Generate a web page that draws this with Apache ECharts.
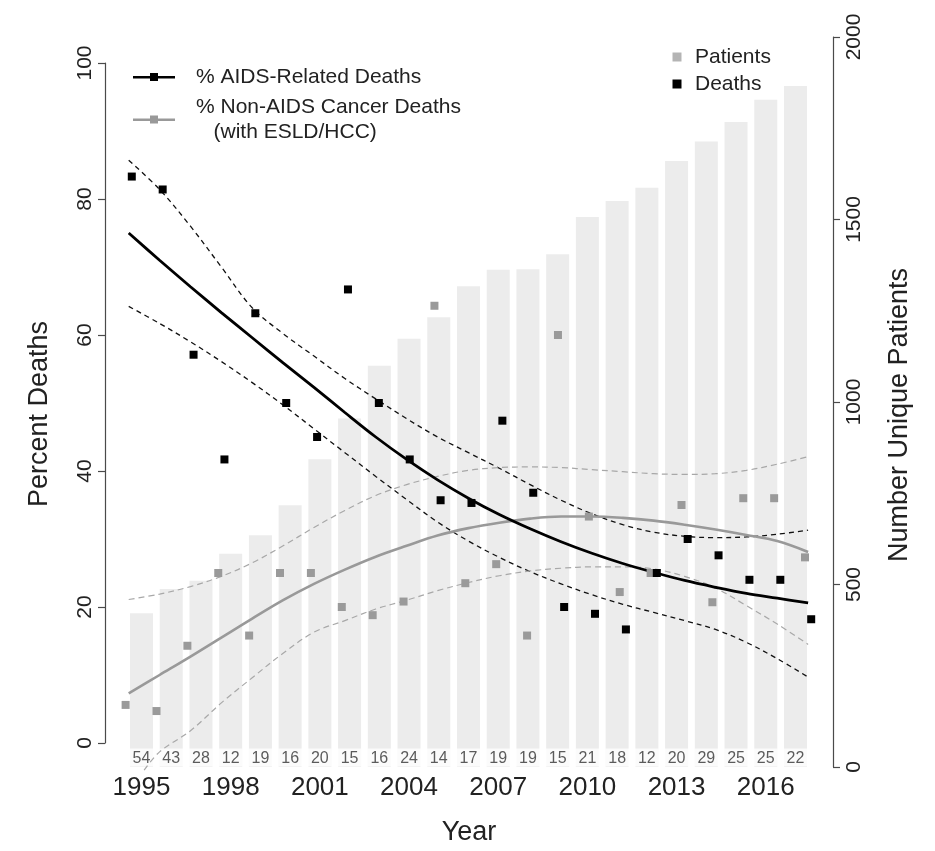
<!DOCTYPE html>
<html>
<head>
<meta charset="utf-8">
<script src="https://cdn.jsdelivr.net/npm/echarts@6/dist/echarts.min.js"></script>
<style>
html,body{margin:0;padding:0;background:#ffffff;}
#chart{width:935px;height:851px;}
</style>
</head>
<body>
<div id="chart"></div>
<script>
// ---------------- data ----------------
const years = [1995,1996,1997,1998,1999,2000,2001,2002,2003,2004,2005,2006,2007,2008,2009,2010,2011,2012,2013,2014,2015,2016,2017];
const yearTicks = [1995,1998,2001,2004,2007,2010,2013,2016];
const pctTicks = [0,20,40,60,80,100];
const patientTicks = [0,500,1000,1500,2000];

// number of deaths per year (printed under the bars)
const deathCounts = [54,43,28,12,19,16,20,15,16,24,14,17,19,19,15,21,18,12,20,29,25,25,22];
// number of unique patients (bars, right axis)
const patients = [421,488,510,584,635,717,843,955,1099,1173,1232,1317,1362,1364,1405,1507,1551,1587,1660,1714,1767,1828,1866];

// observed percentages
const aidsPct    = [83.3,81.4,57.1,41.7,63.2,50.0,45.0,66.7,50.0,41.7,35.7,35.3,47.4,36.8,20.0,19.0,16.7,25.0,30.0,27.6,24.0,24.0,18.2];
const nonAidsPct = [5.6,4.7,14.3,25.0,15.8,25.0,25.0,20.0,18.8,20.8,64.3,23.5,26.3,15.8,60.0,33.3,22.2,25.0,35.0,20.7,36.0,36.0,27.3];

// fitted curves and confidence bands
const aidsFit   = [75.0,71.0,67.1,63.3,59.6,55.9,52.3,48.6,45.0,41.7,38.7,36.0,33.6,31.5,29.6,27.9,26.4,25.1,23.9,22.9,22.0,21.3,20.6];
const aidsUpper = [85.7,81.4,76.0,70.0,64.0,60.2,56.9,53.6,50.6,47.7,45.0,42.7,40.4,38.0,35.7,33.7,32.1,31.0,30.4,30.2,30.3,30.7,31.3];
const aidsLower = [64.2,61.7,59.0,56.1,53.0,49.7,46.2,42.7,39.2,35.8,32.5,29.7,27.3,25.2,23.4,21.8,20.4,19.2,18.0,16.7,14.8,12.4,9.7];

const nonAidsFit   = [7.3,10.0,12.7,15.5,18.3,21.0,23.4,25.5,27.4,29.0,30.5,31.6,32.4,33.0,33.3,33.3,33.1,32.7,32.1,31.4,30.6,29.7,28.1];
const nonAidsUpper = [21.1,21.9,23.0,24.5,26.5,29.0,31.7,34.2,36.4,38.0,39.2,40.1,40.5,40.6,40.5,40.2,39.9,39.6,39.5,39.6,40.1,41.0,42.1];
const nonAidsLower = [null,-1.3,1.8,5.9,9.6,13.2,16.3,18.0,19.7,21.0,22.4,23.6,24.6,25.3,25.7,25.9,25.9,25.6,24.5,22.8,20.2,17.5,14.5];
// where the lower band enters the plot region at the bottom
const nonAidsLowerEntryYear = 1995.5;
const nonAidsLowerEntryValue = -4.0;

const aidsName = '% AIDS-Related Deaths';
const nonAidsName = '% Non-AIDS Cancer Deaths\n   (with ESLD/HCC)';

// ---------------- chart ----------------
const FONT = '"Liberation Sans", Arial, Helvetica, sans-serif';
const TEXT = '#222222';
const AXIS = '#4a4a4a';
const pairs = (arr, dx) => years.map((y, i) => arr[i] == null ? null : [y + (dx || 0), arr[i]]).filter(Boolean);
const legendIcon = 'path://M0,4 L42,4 L42,6.4 L0,6.4 Z M17,1 L25,1 L25,9 L17,9 Z';

const lowerGray = [[nonAidsLowerEntryYear, nonAidsLowerEntryValue]].concat(pairs(nonAidsLower));

const chart = echarts.init(document.getElementById('chart'), null, {renderer: 'canvas'});

const option = {
  animation: false,
  backgroundColor: '#ffffff',
  textStyle: {fontFamily: FONT},
  grid: [
    {left: 105, right: 102, top: 37, bottom: 81},
    {left: 105, right: 102, top: 63, bottom: 108}
  ],
  legend: [
    {
      orient: 'vertical', left: 133, top: 64.5, itemGap: 5, padding: 0,
      itemWidth: 42, itemHeight: 10, selectedMode: false,
      textStyle: {fontFamily: FONT, fontSize: 21, lineHeight: 25, color: TEXT, padding: [0, 0, 0, 16]},
      data: [
        {name: aidsName, icon: legendIcon},
        {name: nonAidsName, icon: legendIcon}
      ]
    },
    {
      orient: 'vertical', left: 672.5, top: 44.5, itemGap: 2, padding: 0,
      itemWidth: 9, itemHeight: 9, selectedMode: false,
      textStyle: {fontFamily: FONT, fontSize: 21, lineHeight: 25, color: TEXT, padding: [0, 0, 0, 8.5]},
      data: [
        {name: 'Patients', icon: 'rect', itemStyle: {color: '#b4b4b4', opacity: 1}},
        {name: 'Deaths', icon: 'rect', itemStyle: {color: '#000000', opacity: 1}}
      ]
    }
  ],
  xAxis: [
    {
      gridIndex: 0, type: 'value', min: 1993.772, max: 2018.262,
      axisLine: {show: false}, axisTick: {show: false}, splitLine: {show: false},
      axisLabel: {
        customValues: yearTicks, fontSize: 26, color: TEXT, margin: 8, fontFamily: FONT,
        formatter: v => String(v)
      },
      name: 'Year', nameLocation: 'middle', nameGap: 52,
      nameTextStyle: {fontSize: 27, color: TEXT, fontFamily: FONT}
    },
    {
      gridIndex: 1, type: 'value', min: 1994.2325, max: 2017.806, show: false,
      splitLine: {show: false}
    }
  ],
  yAxis: [
    {
      gridIndex: 0, type: 'value', position: 'right', min: 0, max: 2000, interval: 500,
      axisLine: {show: true, lineStyle: {color: AXIS, width: 1.2}},
      axisTick: {show: true, length: 7, lineStyle: {color: AXIS, width: 1.2}},
      splitLine: {show: false},
      axisLabel: {rotate: 90, fontSize: 21, color: TEXT, margin: 11, fontFamily: FONT, formatter: v => String(v)},
      name: 'Number Unique Patients', nameLocation: 'middle', nameRotate: 90, nameGap: 53,
      nameTextStyle: {fontSize: 27, color: TEXT, fontFamily: FONT, padding: [0, 26, 0, 0]}
    },
    {
      gridIndex: 1, type: 'value', position: 'left', min: 0, max: 100, interval: 20,
      axisLine: {show: true, lineStyle: {color: AXIS, width: 1.2}},
      axisTick: {show: true, length: 7, lineStyle: {color: AXIS, width: 1.2}},
      splitLine: {show: false},
      axisLabel: {rotate: 90, fontSize: 21, color: TEXT, margin: 9, fontFamily: FONT, formatter: v => String(v)},
      name: 'Percent Deaths', nameLocation: 'middle', nameRotate: 90, nameGap: 52,
      nameTextStyle: {fontSize: 27, color: TEXT, fontFamily: FONT, padding: [0, 22, 0, 0]}
    }
  ],
  series: [
    {
      name: 'Patients', type: 'bar', xAxisIndex: 0, yAxisIndex: 0,
      data: years.map((y, i) => [y, patients[i]]),
      barWidth: 23, itemStyle: {color: '#ececec'}, z: 1
    },
    {
      name: 'Deaths', type: 'scatter', xAxisIndex: 0, yAxisIndex: 0,
      data: years.map((y, i) => [y, 0, deathCounts[i]]),
      symbolSize: 1, clip: false, itemStyle: {color: 'rgba(0,0,0,0)'}, z: 1,
      label: {
        show: true, position: 'top', distance: 0,
        formatter: p => String(p.value[2]),
        fontSize: 16, color: '#333333', fontFamily: FONT,
        backgroundColor: '#ffffff', padding: [2, 3, 0, 3]
      }
    },
    {
      name: 'aidsUpper', type: 'line', xAxisIndex: 1, yAxisIndex: 1, data: pairs(aidsUpper),
      smooth: 0.35, symbol: 'none', z: 3,
      lineStyle: {color: '#111111', width: 1.3, type: [5, 4]}
    },
    {
      name: 'aidsLower', type: 'line', xAxisIndex: 1, yAxisIndex: 1, data: pairs(aidsLower),
      smooth: 0.35, symbol: 'none', z: 3,
      lineStyle: {color: '#111111', width: 1.3, type: [5, 4]}
    },
    {
      name: 'nonAidsUpper', type: 'line', xAxisIndex: 1, yAxisIndex: 1, data: pairs(nonAidsUpper),
      smooth: 0.35, symbol: 'none', z: 3,
      lineStyle: {color: '#a8a8a8', width: 1.2, type: [6, 4]}
    },
    {
      name: 'nonAidsLower', type: 'line', xAxisIndex: 1, yAxisIndex: 1, data: lowerGray,
      smooth: 0.35, symbol: 'none', z: 3, clip: false,
      lineStyle: {color: '#a8a8a8', width: 1.2, type: [6, 4]}
    },
    {
      name: nonAidsName, type: 'line', xAxisIndex: 1, yAxisIndex: 1, data: pairs(nonAidsFit),
      smooth: 0.35, symbol: 'none', z: 3, color: '#999999',
      lineStyle: {color: '#999999', width: 2.6}
    },
    {
      name: aidsName, type: 'line', xAxisIndex: 1, yAxisIndex: 1, data: pairs(aidsFit),
      smooth: 0.35, symbol: 'none', z: 3, color: '#000000',
      lineStyle: {color: '#000000', width: 2.8}
    },
    {
      name: 'nonAidsPoints', type: 'scatter', xAxisIndex: 1, yAxisIndex: 1, data: pairs(nonAidsPct, -0.1),
      symbol: 'rect', symbolSize: 8, z: 4, itemStyle: {color: '#9a9a9a', opacity: 1}
    },
    {
      name: 'aidsPoints', type: 'scatter', xAxisIndex: 1, yAxisIndex: 1, data: pairs(aidsPct, 0.1),
      symbol: 'rect', symbolSize: 8, z: 4, itemStyle: {color: '#000000', opacity: 1}
    }
  ]
};

chart.setOption(option);
</script>
</body>
</html>
